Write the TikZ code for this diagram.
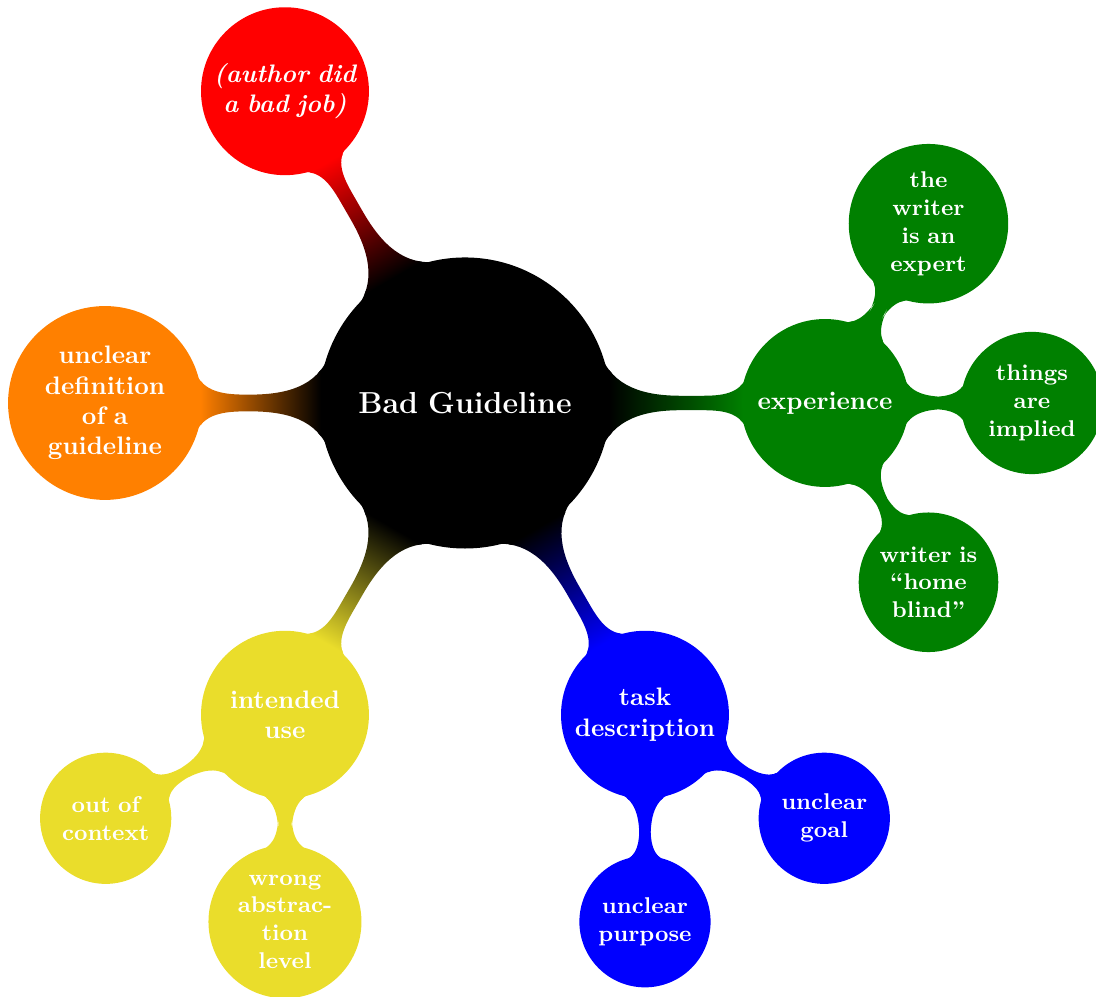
\documentclass[tikz,border=0pt]{standalone}
\usepackage{amsmath}
\usetikzlibrary{mindmap}
\definecolor{useyellow}{RGB}{234,221,43}
\begin{document}
\begin{tikzpicture}[mindmap, text=white,
  rootidea/.style={concept, concept color=black, minimum size=4cm, text width=3.5cm, inner sep=1pt, align=center, font=\large\bfseries},
  mainidea/.style={concept, minimum size=2.29cm, text width=2cm, inner sep=1pt, align=center, font=\normalsize\bfseries},
  subidea/.style={concept, minimum size=1.78cm, text width=1.5cm, inner sep=1pt, align=center, font=\small\bfseries}]
  \useasboundingbox (-6.458,5.597) rectangle (8.764,-8.25);
  \node[rootidea] (bad) at (0,0) {Bad Guideline};
  \node[mainidea, concept color=red] (author) at (-2.5,4.33) {\itshape (author did\\ a bad job)};
  \node[mainidea, concept color=orange] (definition) at (-5,0) {unclear\\ definition\\ of a\\ guideline};
  \node[mainidea, concept color=useyellow] (use) at (-2.5,-4.33) {intended\\ use};
  \node[mainidea, concept color=blue] (task) at (2.5,-4.33) {task\\ description};
  \node[mainidea, concept color=green!50!black] (experience) at (5,0) {experience};
  \node[subidea, concept color=useyellow] (context) at (-4.99,-5.768) {out of\\ context};
  \node[subidea, concept color=useyellow] (abstraction) at (-2.5,-7.205) {wrong\\ abstrac-\\ tion\\ level};
  \node[subidea, concept color=blue] (purpose) at (2.5,-7.205) {unclear\\ purpose};
  \node[subidea, concept color=blue] (goal) at (4.99,-5.768) {unclear\\ goal};
  \node[subidea, concept color=green!50!black] (expert) at (6.4375,2.49) {the\\ writer\\ is an\\ expert};
  \node[subidea, concept color=green!50!black] (implied) at (7.875,0) {things\\ are\\ implied};
  \node[subidea, concept color=green!50!black] (blind) at (6.4375,-2.49) {writer is\\ ``home\\ blind''};
  \path (bad) to[circle connection bar switch color=from (black) to (red)] (author);
  \path (bad) to[circle connection bar switch color=from (black) to (orange)] (definition);
  \path (bad) to[circle connection bar switch color=from (black) to (useyellow)] (use);
  \path (bad) to[circle connection bar switch color=from (black) to (blue)] (task);
  \path (bad) to[circle connection bar switch color=from (black) to (green!50!black)] (experience);
  \path (use) to[circle connection bar switch color=from (useyellow) to (useyellow)] (context);
  \path (use) to[circle connection bar switch color=from (useyellow) to (useyellow)] (abstraction);
  \path (task) to[circle connection bar switch color=from (blue) to (blue)] (purpose);
  \path (task) to[circle connection bar switch color=from (blue) to (blue)] (goal);
  \path (experience) to[circle connection bar switch color=from (green!50!black) to (green!50!black)] (expert);
  \path (experience) to[circle connection bar switch color=from (green!50!black) to (green!50!black)] (implied);
  \path (experience) to[circle connection bar switch color=from (green!50!black) to (green!50!black)] (blind);
\end{tikzpicture}
\end{document}
